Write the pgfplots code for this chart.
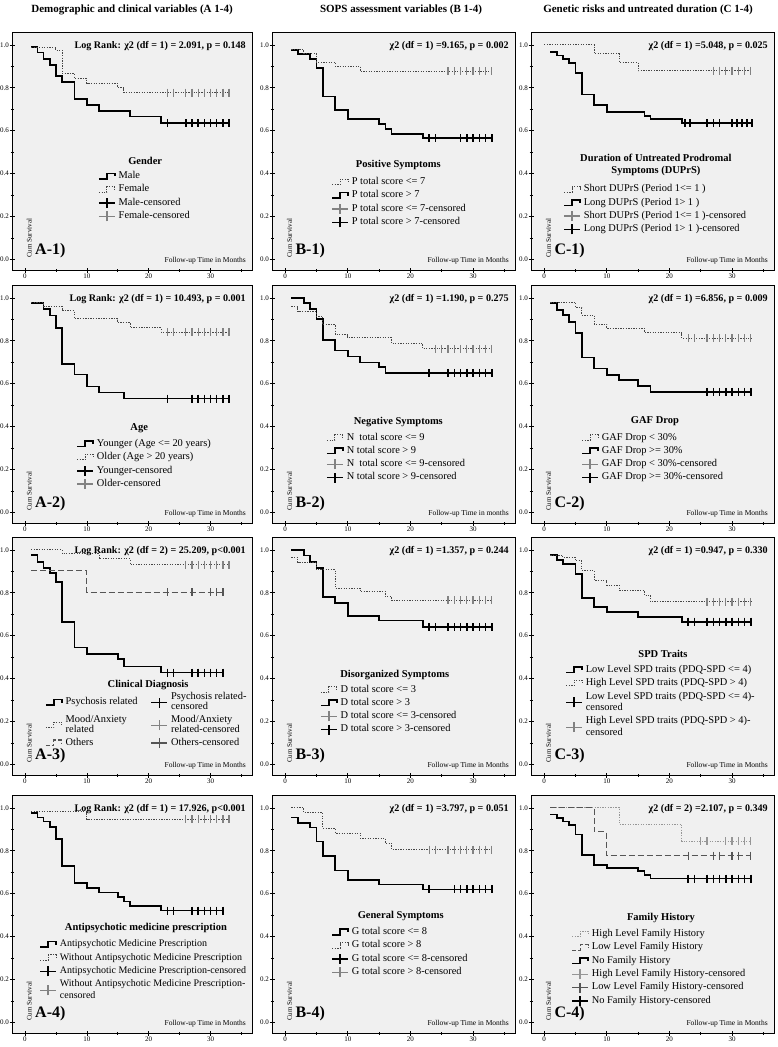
\documentclass[border=0pt]{standalone}
\usepackage{fontspec}
\setmainfont{Liberation Serif}
\usepackage{pgfplots}
\pgfplotsset{compat=1.18}
\definecolor{bgc}{RGB}{240,240,240}
\definecolor{dotc}{RGB}{70,70,70}
\definecolor{cenc}{RGB}{130,130,130}
\definecolor{dashc}{RGB}{85,85,85}
\definecolor{hic}{RGB}{150,150,150}
\tikzset{
 ttl/.style={font=\fontsize{10.5}{12}\selectfont\bfseries, align=center, inner sep=0pt},
 ann/.style={anchor=east, font=\fontsize{10.1}{11}\selectfont\bfseries, inner sep=0pt},
 plab/.style={anchor=south west, font=\fontsize{16}{18}\selectfont\bfseries, inner sep=0pt},
 cum/.style={rotate=90, anchor=south west, font=\fontsize{7}{8}\selectfont, inner sep=0pt},
 fu/.style={anchor=south east, font=\fontsize{7.5}{9}\selectfont, inner sep=0pt},
}
\pgfplotsset{
 km/.style={
   scale only axis, anchor=north west,
   xmin=-2.1, xmax=36.7, ymin=-0.05, ymax=1.06,
   axis background/.style={fill=bgc},
   axis line style={line width=0.8pt},
   xtick={0,10,20,30}, ytick={0,0.2,0.4,0.6,0.8,1.0},
   minor xtick={5,15,25,35}, minor ytick={0.1,0.3,0.5,0.7,0.9},
   tick pos=left, tick align=center,
   major tick length=5pt, minor tick length=3pt,
   every tick/.style={black, line width=0.6pt},
   /pgf/number format/assume math mode=true,
   yticklabel style={/pgf/number format/.cd, fixed, fixed zerofill, precision=1, /tikz/.cd, font=\fontsize{7}{8}\selectfont, inner sep=0.5pt},
   xticklabel style={font=\fontsize{7}{8}\selectfont, inner sep=1pt},
   legend style={draw=none, fill=none, anchor=north west, legend cell align=left,
     font=\fontsize{10.4}{11.4}\selectfont, row sep=0pt, inner sep=0pt,
     nodes={inner sep=1pt, text height=7.9pt, text depth=3.4pt},
     /tikz/every odd column/.append style={column sep=2pt}},
 },
 sv/.style={const plot, black, line width=1.7pt, forget plot},
 dv/.style={const plot, dotc, line width=1pt, dash pattern=on 1.3pt off 1.3pt, forget plot},
 hv/.style={const plot, hic, line width=1pt, dash pattern=on 1.3pt off 1.3pt, forget plot},
 dsv/.style={const plot, dashc, line width=1.2pt, dash pattern=on 6pt off 3pt, forget plot},
 cb/.style={only marks, mark=|, mark size=4pt, black, mark options={line width=1.5pt, solid}, forget plot},
 cg/.style={only marks, mark=|, mark size=4pt, cenc, mark options={line width=1.3pt, solid}, forget plot},
 cd/.style={only marks, mark=|, mark size=4pt, dashc, mark options={line width=1.3pt, solid}, forget plot},
 ch/.style={only marks, mark=|, mark size=4pt, hic, mark options={line width=1.3pt, solid}, forget plot},
 lsolid/.style={legend image code/.code={\draw[black,line width=1.6pt] (0pt,-2.5pt)--(8pt,-2.5pt)--(8pt,3pt)--(16pt,3pt)--(16pt,0pt);}},
 ldot/.style={legend image code/.code={\draw[dotc,line width=1pt,dash pattern=on 1.3pt off 1.3pt] (0pt,-2.5pt)--(8pt,-2.5pt)--(8pt,3pt)--(16pt,3pt)--(16pt,0pt);}},
 lhi/.style={legend image code/.code={\draw[hic,line width=1pt,dash pattern=on 1.3pt off 1.3pt] (0pt,-2.5pt)--(8pt,-2.5pt)--(8pt,3pt)--(16pt,3pt)--(16pt,0pt);}},
 ldash/.style={legend image code/.code={\draw[dashc,line width=1.2pt,dash pattern=on 4pt off 2pt] (0pt,-2.5pt)--(8pt,-2.5pt)--(8pt,3pt)--(16pt,3pt)--(16pt,0pt);}},
 lcb/.style={legend image code/.code={\draw[black,line width=1.5pt] (0pt,0pt)--(16pt,0pt) (8pt,-5pt)--(8pt,5pt);}},
 lcg/.style={legend image code/.code={\draw[cenc,line width=1.3pt] (0pt,0pt)--(16pt,0pt) (8pt,-5pt)--(8pt,5pt);}},
 lcd/.style={legend image code/.code={\draw[dashc,line width=1.3pt] (0pt,0pt)--(16pt,0pt) (8pt,-5pt)--(8pt,5pt);}},
 lch/.style={legend image code/.code={\draw[hic,line width=1.3pt] (0pt,0pt)--(16pt,0pt) (8pt,-5pt)--(8pt,5pt);}},
}
\newcommand\two[2]{\begin{tabular}{@{}l@{}}#1\\#2\end{tabular}}
\newcommand\twoc[2]{{\def\arraystretch{0.9}\begin{tabular}{@{}l@{}}#1\\#2\end{tabular}}}
\begin{document}
\begin{tikzpicture}
\useasboundingbox (0pt,0pt) rectangle (777pt,-1047pt);
\node[font=\fontsize{11}{13}\selectfont\bfseries] at (132pt,-10pt) {Demographic and clinical variables (A 1-4)};
\node[font=\fontsize{11}{13}\selectfont\bfseries] at (401pt,-10pt) {SOPS assessment variables (B 1-4)};
\node[font=\fontsize{11}{13}\selectfont\bfseries] at (648pt,-10pt) {Genetic risks and untreated duration (C 1-4)};

% ---------------- A-1
\begin{axis}[km, at={(12pt,-32pt)}, width=240pt, height=238pt, legend style={at={(0.358,0.422)}}]
\addplot[sv] coordinates {(1,0.989) (2,0.964) (3,0.934) (4,0.906) (5,0.854) (6,0.828) (8,0.746) (10,0.718) (12,0.691) (17,0.666) (22,0.635) (33,0.635)};
\addplot[dv] coordinates {(1,0.99) (5,0.975) (6,0.867) (8,0.843) (10,0.82) (15,0.80) (16,0.777) (33,0.777)};
\addplot[cb] coordinates {(23,0.635) (26,0.635) (27,0.635) (28,0.635) (29,0.635) (30,0.635) (31,0.635) (32,0.635) (33,0.635)};
\addplot[cg] coordinates {(23,0.777) (24,0.777) (26,0.777) (27,0.777) (28,0.777) (29,0.777) (30,0.777) (31,0.777) (32,0.777) (33,0.777)};
\addlegendimage{lsolid}\addlegendentry{Male}
\addlegendimage{ldot}\addlegendentry{Female}
\addlegendimage{lcb}\addlegendentry{Male-censored}
\addlegendimage{lcg}\addlegendentry{Female-censored}
\node[ttl] at (rel axis cs:0.555,0.46) {Gender};
\node[ann] at (rel axis cs:0.975,0.94) {Log Rank: χ2 (df = 1) = 2.091, p = 0.148};
\node[plab] at (rel axis cs:0.096,0.05) {A-1)};
\node[cum] at (rel axis cs:0.083,0.05) {Cum Survival};
\node[fu] at (rel axis cs:0.975,0.025) {Follow-up Time in Months};
\end{axis}

% ---------------- A-2
\begin{axis}[km, at={(12pt,-285pt)}, width=240pt, height=238pt, legend style={at={(0.267,0.36)}}]
\addplot[sv] coordinates {(1,0.977) (3,0.949) (4,0.918) (5,0.86) (6,0.693) (8,0.643) (10,0.586) (12,0.558) (16,0.53) (33,0.53)};
\addplot[dv] coordinates {(1,0.977) (3,0.96) (6,0.94) (8,0.902) (15,0.884) (17,0.86) (22,0.84) (33,0.84)};
\addplot[cb] coordinates {(23,0.53) (27,0.53) (28,0.53) (29,0.53) (30,0.53) (31,0.53) (32,0.53) (33,0.53)};
\addplot[cg] coordinates {(23,0.84) (24,0.84) (26,0.84) (27,0.84) (28,0.84) (29,0.84) (30,0.84) (31,0.84) (32,0.84) (33,0.84)};
\addlegendimage{lsolid}\addlegendentry{Younger (Age <= 20 years)}
\addlegendimage{ldot}\addlegendentry{Older (Age > 20 years)}
\addlegendimage{lcb}\addlegendentry{Younger-censored}
\addlegendimage{lcg}\addlegendentry{Older-censored}
\node[ttl] at (rel axis cs:0.53,0.40) {Age};
\node[ann] at (rel axis cs:0.975,0.94) {Log Rank: χ2 (df = 1) = 10.493, p = 0.001};
\node[plab] at (rel axis cs:0.096,0.05) {A-2)};
\node[cum] at (rel axis cs:0.083,0.05) {Cum Survival};
\node[fu] at (rel axis cs:0.975,0.025) {Follow-up Time in Months};
\end{axis}

% ---------------- A-3
\begin{axis}[km, at={(12pt,-537pt)}, width=240pt, height=238pt, legend columns=2,
  legend style={at={(0.137,0.352)}, /tikz/every even column/.append style={column sep=12pt}}]
\addplot[sv] coordinates {(1,0.977) (2,0.942) (3,0.916) (4,0.891) (5,0.849) (6,0.662) (8,0.545) (10,0.514) (15,0.491) (16,0.456) (22,0.428) (32,0.428)};
\addplot[dv] coordinates {(1,1.0) (6,0.981) (12,0.958) (17,0.93) (33,0.93)};
\addplot[dsv] coordinates {(1,0.903) (10,0.802) (32,0.802)};
\addplot[cb] coordinates {(23,0.428) (24,0.428) (27,0.428) (28,0.428) (29,0.428) (30,0.428) (31,0.428) (32,0.428)};
\addplot[cg] coordinates {(26,0.93) (27,0.93) (28,0.93) (29,0.93) (30,0.93) (31,0.93) (32,0.93) (33,0.93)};
\addplot[cd] coordinates {(23,0.802) (27,0.802) (30,0.802) (31,0.802) (32,0.802)};
\addlegendimage{lsolid}\addlegendentry{Psychosis related}
\addlegendimage{lcb}\addlegendentry[text height=12.8pt, text depth=7.7pt]{\twoc{Psychosis related-}{censored}}
\addlegendimage{ldot}\addlegendentry[text height=12.8pt, text depth=7.7pt]{\twoc{Mood/Anxiety}{related}}
\addlegendimage{lcg}\addlegendentry[text height=12.8pt, text depth=7.7pt]{\twoc{Mood/Anxiety}{related-censored}}
\addlegendimage{ldash}\addlegendentry{Others}
\addlegendimage{lcd}\addlegendentry{Others-censored}
\node[ttl] at (rel axis cs:0.567,0.377) {Clinical Diagnosis};
\node[ann] at (rel axis cs:0.975,0.94) {Log Rank: χ2 (df = 2) = 25.209, p<0.001};
\node[plab] at (rel axis cs:0.096,0.05) {A-3)};
\node[cum] at (rel axis cs:0.083,0.05) {Cum Survival};
\node[fu] at (rel axis cs:0.975,0.025) {Follow-up Time in Months};
\end{axis}

% ---------------- A-4
\begin{axis}[km, at={(12pt,-795pt)}, width=240pt, height=238pt, legend style={at={(0.113,0.40)}, font=\fontsize{10}{11.4}\selectfont}]
\addplot[sv] coordinates {(1,0.977) (2,0.955) (3,0.936) (4,0.912) (5,0.854) (6,0.729) (8,0.649) (10,0.626) (12,0.606) (15,0.583) (16,0.563) (17,0.544) (22,0.521) (32,0.521)};
\addplot[dv] coordinates {(1,0.982) (10,0.946) (33,0.946)};
\addplot[cb] coordinates {(23,0.521) (24,0.521) (27,0.521) (28,0.521) (29,0.521) (30,0.521) (31,0.521) (32,0.521)};
\addplot[cg] coordinates {(26,0.946) (27,0.946) (28,0.946) (29,0.946) (30,0.946) (31,0.946) (32,0.946) (33,0.946)};
\addlegendimage{lsolid}\addlegendentry{Antipsychotic Medicine Prescription}
\addlegendimage{ldot}\addlegendentry{Without Antipsychotic Medicine Prescription}
\addlegendimage{lcb}\addlegendentry{Antipsychotic Medicine Prescription-censored}
\addlegendimage{lcg}\addlegendentry[text height=14pt, text depth=8.8pt]{\two{Without Antipsychotic Medicine Prescription-}{censored}}
\node[ttl] at (rel axis cs:0.558,0.44) {Antipsychotic medicine prescription};
\node[ann] at (rel axis cs:0.975,0.94) {Log Rank: χ2 (df = 1) = 17.926, p<0.001};
\node[plab] at (rel axis cs:0.096,0.05) {A-4)};
\node[cum] at (rel axis cs:0.083,0.05) {Cum Survival};
\node[fu] at (rel axis cs:0.975,0.025) {Follow-up Time in Months};
\end{axis}

% ---------------- B-1
\begin{axis}[km, at={(272pt,-32pt)}, width=243pt, height=238pt, legend style={at={(0.243,0.397)}}]
\addplot[sv] coordinates {(1,0.977) (2,0.956) (4,0.935) (5,0.891) (6,0.759) (8,0.697) (10,0.653) (15,0.63) (16,0.608) (17,0.585) (22,0.565) (33,0.565)};
\addplot[dv] coordinates {(1,0.977) (3,0.96) (5,0.92) (8,0.90) (12,0.876) (33,0.876)};
\addplot[cb] coordinates {(23,0.565) (24,0.565) (28,0.565) (29,0.565) (30,0.565) (31,0.565) (32,0.565) (33,0.565)};
\addplot[cg] coordinates {(26,0.876) (27,0.876) (28,0.876) (29,0.876) (30,0.876) (31,0.876) (32,0.876) (33,0.876)};
\addlegendimage{ldot}\addlegendentry{P total score <= 7}
\addlegendimage{lsolid}\addlegendentry{P total score > 7}
\addlegendimage{lcg}\addlegendentry{P total score <= 7-censored}
\addlegendimage{lcb}\addlegendentry{P total score > 7-censored}
\node[ttl] at (rel axis cs:0.52,0.44) {Positive Symptoms};
\node[ann] at (rel axis cs:0.975,0.94) {χ2 (df = 1) =9.165, p = 0.002};
\node[plab] at (rel axis cs:0.096,0.05) {B-1)};
\node[cum] at (rel axis cs:0.083,0.05) {Cum Survival};
\node[fu] at (rel axis cs:0.975,0.025) {Follow-up Time in Months};
\end{axis}

% ---------------- B-2
\begin{axis}[km, at={(272pt,-285pt)}, width=243pt, height=238pt, legend style={at={(0.222,0.387)}}]
\addplot[sv] coordinates {(1,1.0) (3,0.977) (4,0.949) (5,0.902) (6,0.805) (8,0.755) (10,0.727) (12,0.699) (15,0.678) (16,0.65) (33,0.65)};
\addplot[dv] coordinates {(1,0.958) (2,0.935) (5,0.914) (6,0.875) (8,0.829) (10,0.813) (17,0.787) (22,0.762) (33,0.762)};
\addplot[cb] coordinates {(23,0.65) (26,0.65) (27,0.65) (28,0.65) (29,0.65) (30,0.65) (31,0.65) (32,0.65) (33,0.65)};
\addplot[cg] coordinates {(24,0.762) (25,0.762) (26,0.762) (27,0.762) (28,0.762) (29,0.762) (30,0.762) (31,0.762) (32,0.762) (33,0.762)};
\addlegendimage{ldot}\addlegendentry{N\ \ total score <= 9}
\addlegendimage{lsolid}\addlegendentry{N total score > 9}
\addlegendimage{lcg}\addlegendentry{N\ \ total score <= 9-censored}
\addlegendimage{lcb}\addlegendentry{N total score > 9-censored}
\node[ttl] at (rel axis cs:0.52,0.426) {Negative Symptoms};
\node[ann] at (rel axis cs:0.975,0.94) {χ2 (df = 1) =1.190, p = 0.275};
\node[plab] at (rel axis cs:0.096,0.05) {B-2)};
\node[cum] at (rel axis cs:0.083,0.05) {Cum Survival};
\node[fu] at (rel axis cs:0.975,0.025) {Follow-up Time in months};
\end{axis}

% ---------------- B-3
\begin{axis}[km, at={(272pt,-537pt)}, width=243pt, height=238pt, legend style={at={(0.197,0.387)}}]
\addplot[sv] coordinates {(1,1.0) (3,0.974) (4,0.945) (5,0.914) (6,0.779) (8,0.751) (10,0.692) (15,0.67) (22,0.639) (33,0.639)};
\addplot[dv] coordinates {(1,0.966) (2,0.942) (5,0.907) (8,0.821) (12,0.806) (16,0.782) (17,0.764) (33,0.764)};
\addplot[cb] coordinates {(23,0.639) (24,0.639) (26,0.639) (27,0.639) (28,0.639) (29,0.639) (30,0.639) (31,0.639) (32,0.639) (33,0.639)};
\addplot[cg] coordinates {(26,0.764) (27,0.764) (28,0.764) (29,0.764) (30,0.764) (31,0.764) (32,0.764) (33,0.764)};
\addlegendimage{ldot}\addlegendentry{D total score <= 3}
\addlegendimage{lsolid}\addlegendentry{D total score > 3}
\addlegendimage{lcg}\addlegendentry{D total score <= 3-censored}
\addlegendimage{lcb}\addlegendentry{D total score > 3-censored}
\node[ttl] at (rel axis cs:0.505,0.42) {Disorganized Symptoms};
\node[ann] at (rel axis cs:0.975,0.94) {χ2 (df = 1) =1.357, p = 0.244};
\node[plab] at (rel axis cs:0.096,0.05) {B-3)};
\node[cum] at (rel axis cs:0.083,0.05) {Cum Survival};
\node[fu] at (rel axis cs:0.975,0.025) {Follow-up Time in Months};
\end{axis}

% ---------------- B-4
\begin{axis}[km, at={(272pt,-795pt)}, width=243pt, height=238pt, legend style={at={(0.243,0.452)}}]
\addplot[sv] coordinates {(1,0.955) (2,0.931) (4,0.908) (5,0.843) (6,0.777) (8,0.708) (10,0.662) (15,0.643) (22,0.62) (33,0.62)};
\addplot[dv] coordinates {(1,1.0) (3,0.977) (6,0.905) (8,0.882) (12,0.858) (16,0.835) (17,0.805) (33,0.805)};
\addplot[cb] coordinates {(23,0.62) (27,0.62) (28,0.62) (29,0.62) (30,0.62) (31,0.62) (32,0.62) (33,0.62)};
\addplot[cg] coordinates {(23,0.805) (24,0.805) (26,0.805) (27,0.805) (28,0.805) (29,0.805) (30,0.805) (31,0.805) (32,0.805) (33,0.805)};
\addlegendimage{lsolid}\addlegendentry{G total score <= 8}
\addlegendimage{ldot}\addlegendentry{G total score > 8}
\addlegendimage{lcb}\addlegendentry{G total score <= 8-censored}
\addlegendimage{lcg}\addlegendentry{G total score > 8-censored}
\node[ttl] at (rel axis cs:0.53,0.49) {General Symptoms};
\node[ann] at (rel axis cs:0.975,0.94) {χ2 (df = 1) =3.797, p = 0.051};
\node[plab] at (rel axis cs:0.096,0.05) {B-4)};
\node[cum] at (rel axis cs:0.083,0.05) {Cum Survival};
\node[fu] at (rel axis cs:0.975,0.025) {Follow-up Time in Months};
\end{axis}

% ---------------- C-1
\begin{axis}[km, at={(531pt,-32pt)}, width=243pt, height=238pt, legend style={at={(0.132,0.367)}}]
\addplot[dv] coordinates {(0,1.0) (8,0.958) (12,0.918) (15,0.88) (33,0.88)};
\addplot[sv] coordinates {(1,0.966) (2,0.951) (3,0.934) (4,0.915) (5,0.869) (6,0.769) (8,0.718) (10,0.688) (16,0.669) (17,0.654) (22,0.635) (33,0.635)};
\addplot[cg] coordinates {(27,0.88) (28,0.88) (29,0.88) (30,0.88) (31,0.88) (32,0.88) (33,0.88)};
\addplot[cb] coordinates {(22.5,0.635) (23.3,0.635) (26,0.635) (27,0.635) (28,0.635) (30,0.635) (30.8,0.635) (31.6,0.635) (32.4,0.635) (33.2,0.635)};
\addlegendimage{ldot}\addlegendentry{Short DUPrS (Period 1<= 1 )}
\addlegendimage{lsolid}\addlegendentry{Long DUPrS (Period 1> 1 )}
\addlegendimage{lcg}\addlegendentry{Short DUPrS (Period 1<= 1 )-censored}
\addlegendimage{lcb}\addlegendentry{Long DUPrS (Period 1> 1 )-censored}
\node[ttl] at (rel axis cs:0.514,0.44) {Duration of Untreated Prodromal\\Symptoms (DUPrS)};
\node[ann] at (rel axis cs:0.975,0.94) {χ2 (df = 1) =5.048, p = 0.025};
\node[plab] at (rel axis cs:0.096,0.05) {C-1)};
\node[cum] at (rel axis cs:0.083,0.05) {Cum Survival};
\node[fu] at (rel axis cs:0.975,0.025) {Follow-up Time in Months};
\end{axis}

% ---------------- C-2
\begin{axis}[km, at={(531pt,-285pt)}, width=243pt, height=238pt, legend style={at={(0.206,0.387)}}]
\addplot[sv] coordinates {(1,0.975) (2,0.944) (3,0.92) (4,0.889) (5,0.835) (6,0.722) (8,0.671) (10,0.64) (12,0.616) (15,0.588) (17,0.562) (33,0.562)};
\addplot[dv] coordinates {(1,0.98) (5,0.956) (6,0.92) (8,0.878) (10,0.858) (16,0.838) (22,0.811) (33,0.811)};
\addplot[cb] coordinates {(26,0.562) (27,0.562) (28,0.562) (29,0.562) (30,0.562) (31,0.562) (32,0.562) (33,0.562)};
\addplot[cg] coordinates {(23,0.811) (24,0.811) (26,0.811) (27,0.811) (28,0.811) (29,0.811) (30,0.811) (31,0.811) (32,0.811) (33,0.811)};
\addlegendimage{ldot}\addlegendentry{GAF Drop < 30\%}
\addlegendimage{lsolid}\addlegendentry{GAF Drop >= 30\%}
\addlegendimage{lcg}\addlegendentry{GAF Drop < 30\%-censored}
\addlegendimage{lcb}\addlegendentry{GAF Drop >= 30\%-censored}
\node[ttl] at (rel axis cs:0.51,0.426) {GAF Drop};
\node[ann] at (rel axis cs:0.975,0.94) {χ2 (df = 1) =6.856, p = 0.009};
\node[plab] at (rel axis cs:0.096,0.05) {C-2)};
\node[cum] at (rel axis cs:0.083,0.05) {Cum Survival};
\node[fu] at (rel axis cs:0.975,0.025) {Follow-up Time in Months};
\end{axis}

% ---------------- C-3
\begin{axis}[km, at={(531pt,-537pt)}, width=243pt, height=238pt, legend style={at={(0.14,0.47)}}]
\addplot[sv] coordinates {(1,0.975) (2,0.954) (3,0.934) (5,0.888) (6,0.777) (8,0.734) (10,0.711) (15,0.688) (22,0.665) (33,0.665)};
\addplot[dv] coordinates {(1,0.975) (3,0.965) (5,0.949) (6,0.903) (8,0.857) (10,0.834) (12,0.811) (16,0.788) (17,0.757) (33,0.757)};
\addplot[cb] coordinates {(23,0.665) (24,0.665) (26,0.665) (27,0.665) (28,0.665) (29,0.665) (30,0.665) (31,0.665) (32,0.665) (33,0.665)};
\addplot[cg] coordinates {(26,0.757) (27,0.757) (28,0.757) (29,0.757) (30,0.757) (31,0.757) (32,0.757) (33,0.757)};
\addlegendimage{lsolid}\addlegendentry{Low Level SPD traits (PDQ-SPD <= 4)}
\addlegendimage{ldot}\addlegendentry{High Level SPD traits (PDQ-SPD > 4)}
\addlegendimage{lcb}\addlegendentry[text height=14pt, text depth=8.8pt]{\two{Low Level SPD traits (PDQ-SPD <= 4)-}{censored}}
\addlegendimage{lcg}\addlegendentry[text height=14pt, text depth=8.8pt]{\two{High Level SPD traits (PDQ-SPD > 4)-}{censored}}
\node[ttl] at (rel axis cs:0.543,0.51) {SPD Traits};
\node[ann] at (rel axis cs:0.975,0.94) {χ2 (df = 1) =0.947, p = 0.330};
\node[plab] at (rel axis cs:0.096,0.05) {C-3)};
\node[cum] at (rel axis cs:0.083,0.05) {Cum Survival};
\node[fu] at (rel axis cs:0.975,0.025) {Follow-up Time in Months};
\end{axis}

% ---------------- C-4
\begin{axis}[km, at={(531pt,-795pt)}, width=243pt, height=238pt, legend style={at={(0.165,0.443)}}]
\addplot[hv] coordinates {(1,1.0) (12,0.923) (22,0.845) (33,0.845)};
\addplot[dsv] coordinates {(1,1.0) (8,0.888) (10,0.777) (33,0.777)};
\addplot[sv] coordinates {(1,0.969) (2,0.954) (3,0.937) (4,0.919) (5,0.876) (6,0.78) (8,0.734) (10,0.719) (15,0.704) (16,0.688) (17,0.67) (33,0.67)};
\addplot[ch] coordinates {(25,0.845) (26,0.845) (29,0.845) (30,0.845) (31,0.845) (32,0.845) (33,0.845)};
\addplot[cd] coordinates {(23,0.777) (27,0.777) (28,0.777) (30,0.777) (31,0.777) (33,0.777)};
\addplot[cb] coordinates {(23,0.67) (24,0.67) (26,0.67) (27,0.67) (28,0.67) (29,0.67) (30,0.67) (31,0.67) (32,0.67) (33,0.67)};
\addlegendimage{lhi}\addlegendentry{High Level Family History}
\addlegendimage{ldash}\addlegendentry{Low Level Family History}
\addlegendimage{lsolid}\addlegendentry{No Family History}
\addlegendimage{lch}\addlegendentry{High Level Family History-censored}
\addlegendimage{lcd}\addlegendentry{Low Level Family History-censored}
\addlegendimage{lcb}\addlegendentry{No Family History-censored}
\node[ttl] at (rel axis cs:0.535,0.483) {Family History};
\node[ann] at (rel axis cs:0.975,0.94) {χ2 (df = 2) =2.107, p = 0.349};
\node[plab] at (rel axis cs:0.096,0.05) {C-4)};
\node[cum] at (rel axis cs:0.083,0.05) {Cum Survival};
\node[fu] at (rel axis cs:0.975,0.025) {Follow-up Time in Months};
\end{axis}
\end{tikzpicture}
\end{document}
